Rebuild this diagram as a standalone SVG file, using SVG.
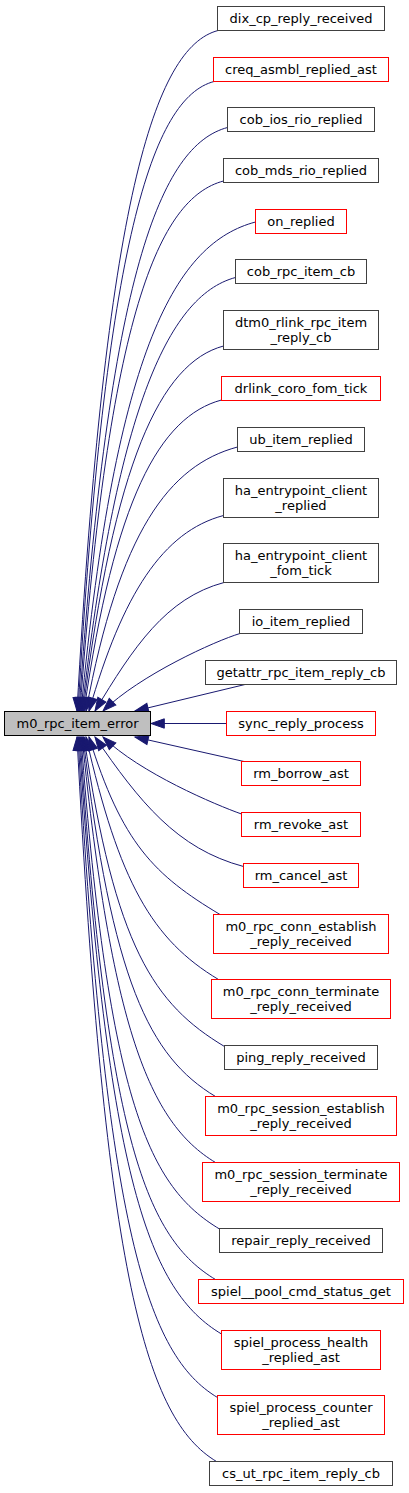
<svg xmlns="http://www.w3.org/2000/svg" width="409" height="1493" viewBox="0 0 409 1493">
<style>
.n rect{fill:#ffffff;stroke:#404040;stroke-width:1}
.r rect{fill:#ffffff;stroke:#ff0000;stroke-width:1}
.m rect{fill:#bfbfbf;stroke:#000000;stroke-width:1}
text{font-family:"DejaVu Sans","Liberation Sans",sans-serif;font-size:13px;fill:#000000;text-anchor:middle}
.e path{fill:none;stroke:#191970;stroke-width:1;marker-end:url(#ah)}
</style>
<defs>
<marker id="ah" markerUnits="userSpaceOnUse" markerWidth="16" markerHeight="12" refX="13.3" refY="6" orient="auto" overflow="visible">
<path d="M0,1.3 L13.3,6 L0,10.7 z" fill="#191970" stroke="#191970" stroke-width="1"/>
</marker>
</defs>
<rect width="409" height="1493" fill="#ffffff"/>
<g id="edges" class="e">
<path d="M218,30.5 C154.5,47.4 105.2,200.6 77,711"/>
<path d="M214,81.5 C152.8,97.8 105.2,238.9 78,711"/>
<path d="M227.5,127.5 C160.7,145.3 108.7,273.4 79,711"/>
<path d="M223.5,181 C158.9,198.2 108.7,313.5 80,711"/>
<path d="M255.5,222 C177,242.9 115.9,344.2 81,711"/>
<path d="M235.5,277.5 C166.4,295.9 115.8,416.2 82,711"/>
<path d="M223.5,346 C160.3,362.9 113.9,462.8 83,711"/>
<path d="M221.5,400 C159.6,416.5 114.3,499.5 84,711"/>
<path d="M237.5,447 C169.3,465.2 119.3,531.5 86,711"/>
<path d="M223.5,515.5 C163,531.6 122.6,593.7 89,711"/>
<path d="M224,582.5 C166,598 133.7,646.7 95,711"/>
<path d="M240,633.5 C215,641 140,675 103,711"/>
<path d="M245,684.5 L135,711"/>
<path d="M226,723.5 L151,723.5"/>
<path d="M244,761.5 L135,737"/>
<path d="M241.5,814 C216,805 140,773 103,737"/>
<path d="M243.5,866.5 C176.7,848.7 139.6,801.8 95,737"/>
<path d="M220,914.5 C154.5,875.2 121.8,843.5 89,737"/>
<path d="M218.5,979.5 C152.2,939.7 119.1,882.5 86,737"/>
<path d="M224.5,1046.5 C154.2,1004.3 114.9,947.5 84,737"/>
<path d="M215.5,1096.5 C149.2,1056.7 112.2,981.5 83,737"/>
<path d="M215.5,1162.5 C148.7,1122.4 111.4,1026.3 82,737"/>
<path d="M219.5,1229 C150.2,1187.4 108.7,1106 81,737"/>
<path d="M215.5,1279.5 C147.7,1238.8 107.1,1143.9 80,737"/>
<path d="M221.5,1334 C150.2,1291.2 107.5,1184.8 79,737"/>
<path d="M217.5,1397.5 C147.7,1355.6 105.9,1232.4 78,737"/>
<path d="M216.5,1461.5 C146.7,1419.6 104.9,1280.4 77,737"/>
</g>
<g id="m0_rpc_item_error" class="m"><rect x="4.5" y="711.5" width="146" height="24"/><text x="77.5" y="727.5">m0_rpc_item_error</text></g>
<g id="dix_cp_reply_received" class="n"><rect x="217.5" y="6.5" width="167" height="24"/><text x="301" y="22.5">dix_cp_reply_received</text></g>
<g id="creq_asmbl_replied_ast" class="r"><rect x="213.5" y="57.5" width="175" height="24"/><text x="301" y="73.5">creq_asmbl_replied_ast</text></g>
<g id="cob_ios_rio_replied" class="n"><rect x="227.5" y="107.5" width="147" height="24"/><text x="301" y="123.5">cob_ios_rio_replied</text></g>
<g id="cob_mds_rio_replied" class="n"><rect x="223.5" y="158.5" width="155" height="24"/><text x="301" y="174.5">cob_mds_rio_replied</text></g>
<g id="on_replied" class="r"><rect x="255.5" y="209.5" width="91" height="24"/><text x="301" y="225.5">on_replied</text></g>
<g id="cob_rpc_item_cb" class="n"><rect x="235.5" y="259.5" width="131" height="24"/><text x="301" y="275.5">cob_rpc_item_cb</text></g>
<g id="dtm0_rlink_rpc_item_reply_cb" class="n"><rect x="223.5" y="310.5" width="155" height="39"/><text x="301" y="326.5">dtm0_rlink_rpc_item</text><text x="301" y="341.5">_reply_cb</text></g>
<g id="drlink_coro_fom_tick" class="r"><rect x="221.5" y="376.5" width="159" height="24"/><text x="301" y="392.5">drlink_coro_fom_tick</text></g>
<g id="ub_item_replied" class="n"><rect x="237.5" y="427.5" width="127" height="24"/><text x="301" y="443.5">ub_item_replied</text></g>
<g id="ha_entrypoint_client_replied" class="n"><rect x="223.5" y="478.5" width="155" height="39"/><text x="301" y="494.5">ha_entrypoint_client</text><text x="301" y="509.5">_replied</text></g>
<g id="ha_entrypoint_client_fom_tick" class="n"><rect x="223.5" y="543.5" width="155" height="39"/><text x="301" y="559.5">ha_entrypoint_client</text><text x="301" y="574.5">_fom_tick</text></g>
<g id="io_item_replied" class="n"><rect x="239.5" y="609.5" width="123" height="24"/><text x="301" y="625.5">io_item_replied</text></g>
<g id="getattr_rpc_item_reply_cb" class="n"><rect x="205.5" y="660.5" width="191" height="24"/><text x="301" y="676.5">getattr_rpc_item_reply_cb</text></g>
<g id="sync_reply_process" class="r"><rect x="226.5" y="711.5" width="149" height="24"/><text x="301" y="727.5">sync_reply_process</text></g>
<g id="rm_borrow_ast" class="r"><rect x="241.5" y="761.5" width="119" height="24"/><text x="301" y="777.5">rm_borrow_ast</text></g>
<g id="rm_revoke_ast" class="r"><rect x="241.5" y="812.5" width="119" height="24"/><text x="301" y="828.5">rm_revoke_ast</text></g>
<g id="rm_cancel_ast" class="r"><rect x="243.5" y="863.5" width="115" height="24"/><text x="301" y="879.5">rm_cancel_ast</text></g>
<g id="m0_rpc_conn_establish_reply_received" class="r"><rect x="213.5" y="914.5" width="175" height="39"/><text x="301" y="930.5">m0_rpc_conn_establish</text><text x="301" y="945.5">_reply_received</text></g>
<g id="m0_rpc_conn_terminate_reply_received" class="r"><rect x="211.5" y="979.5" width="179" height="39"/><text x="301" y="995.5">m0_rpc_conn_terminate</text><text x="301" y="1010.5">_reply_received</text></g>
<g id="ping_reply_received" class="n"><rect x="224.5" y="1045.5" width="153" height="24"/><text x="301" y="1061.5">ping_reply_received</text></g>
<g id="m0_rpc_session_establish_reply_received" class="r"><rect x="205.5" y="1096.5" width="191" height="39"/><text x="301" y="1112.5">m0_rpc_session_establish</text><text x="301" y="1127.5">_reply_received</text></g>
<g id="m0_rpc_session_terminate_reply_received" class="r"><rect x="202.5" y="1162.5" width="197" height="39"/><text x="301" y="1178.5">m0_rpc_session_terminate</text><text x="301" y="1193.5">_reply_received</text></g>
<g id="repair_reply_received" class="n"><rect x="219.5" y="1228.5" width="163" height="24"/><text x="301" y="1244.5">repair_reply_received</text></g>
<g id="spiel__pool_cmd_status_get" class="r"><rect x="198.5" y="1279.5" width="205" height="24"/><text x="301" y="1295.5">spiel__pool_cmd_status_get</text></g>
<g id="spiel_process_health_replied_ast" class="r"><rect x="221.5" y="1330.5" width="159" height="39"/><text x="301" y="1346.5">spiel_process_health</text><text x="301" y="1361.5">_replied_ast</text></g>
<g id="spiel_process_counter_replied_ast" class="r"><rect x="217.5" y="1395.5" width="167" height="39"/><text x="301" y="1411.5">spiel_process_counter</text><text x="301" y="1426.5">_replied_ast</text></g>
<g id="cs_ut_rpc_item_reply_cb" class="n"><rect x="209.5" y="1461.5" width="183" height="24"/><text x="301" y="1477.5">cs_ut_rpc_item_reply_cb</text></g>
</svg>
